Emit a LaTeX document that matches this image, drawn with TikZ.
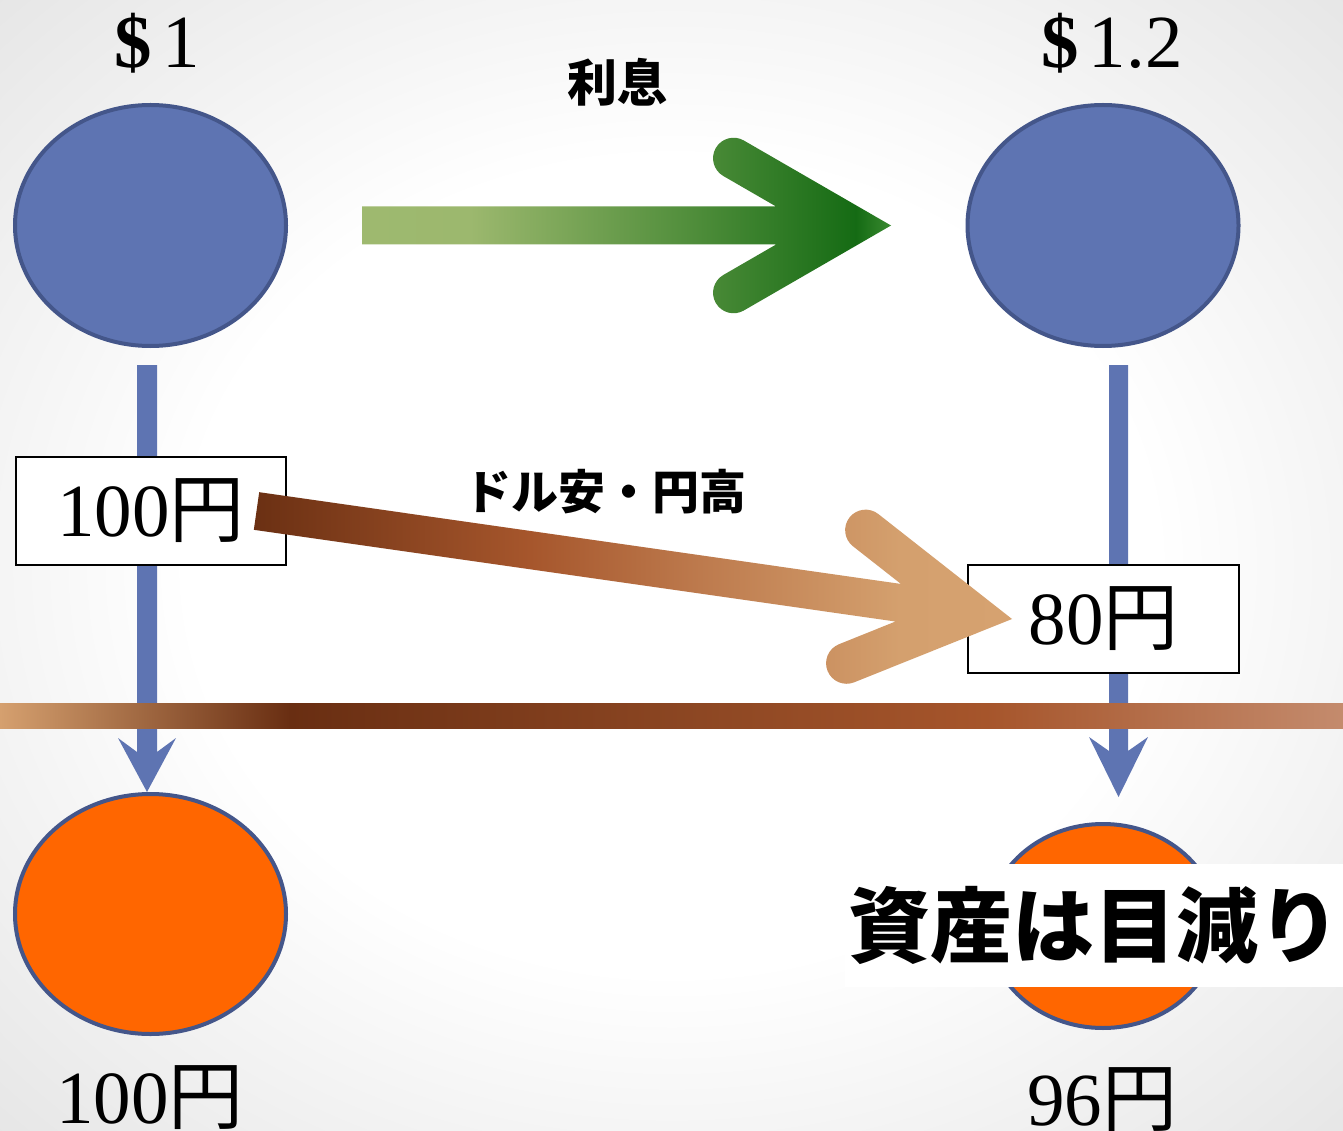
\documentclass[tikz,border=0pt]{standalone}
\usepackage{fontspec}
\setmainfont{Liberation Serif}
\newfontfamily\jp{Noto Sans CJK JP}
\usetikzlibrary{shapes.geometric}
\definecolor{bluefill}{HTML}{5E74B2}
\definecolor{blueline}{HTML}{44568A}
\definecolor{orangefill}{HTML}{FF6600}
\definecolor{ga}{HTML}{9EB96F}
\definecolor{gb}{HTML}{9CB86E}
\definecolor{gc}{HTML}{4D8C39}
\definecolor{gd}{HTML}{156B14}
\definecolor{ge}{HTML}{3A8A30}
\definecolor{ba}{HTML}{6B3013}
\definecolor{bb}{HTML}{A6562C}
\definecolor{bc}{HTML}{BD7A4D}
\definecolor{bd}{HTML}{D4A06E}
\definecolor{be}{HTML}{D6A270}
\definecolor{ra}{HTML}{D5A06F}
\definecolor{rb}{HTML}{692E12}
\definecolor{rc}{HTML}{8D4723}
\definecolor{rd}{HTML}{A6552B}
\definecolor{re}{HTML}{C48B6D}
\pgfdeclareradialshading{bgshade}{\pgfpoint{0bp}{0bp}}{color(0bp)=(white); color(18bp)=(white); color(25bp)=(black!4); color(36bp)=(black!10); color(50bp)=(black!10)}
\pgfdeclarehorizontalshading{greenshade}{100bp}{color(0bp)=(ga); color(25bp)=(ga); color(35.2bp)=(gb); color(56.9bp)=(gc); color(71.7bp)=(gd); color(75bp)=(ge); color(100bp)=(ge)}
\pgfdeclarehorizontalshading{brownshade}{100bp}{color(0bp)=(ba); color(25bp)=(ba); color(43.2bp)=(bb); color(54.4bp)=(bc); color(67.6bp)=(bd); color(75bp)=(be); color(100bp)=(be)}
\pgfdeclarehorizontalshading{barshade}{100bp}{color(0bp)=(ra); color(25bp)=(ra); color(35.8bp)=(rb); color(51.1bp)=(rc); color(61.7bp)=(rd); color(75bp)=(re); color(100bp)=(re)}
\tikzset{
  coin/.style={ellipse, draw=blueline, line width=4pt, inner sep=0pt},
  yenbox/.style={draw=black, line width=2pt, fill=white, minimum width=270pt, minimum height=108pt, inner sep=0pt, font=\fontsize{75}{80}\selectfont},
  bigtext/.style={inner sep=0pt, font=\fontsize{75}{80}\selectfont, anchor=base},
  jplabel/.style={inner sep=0pt, font=\jp\bfseries\fontsize{47}{52}\selectfont}
}
\begin{document}
\begin{tikzpicture}[x=1pt,y=-1pt]
\useasboundingbox (0,0) rectangle (1343,1131);
\shade[shading=bgshade] (0,0) rectangle (1343,1131);

% blue connectors (block arrows)
\coordinate (t1) at (147,792);
\coordinate (t2) at (1118.5,797);
\fill[bluefill] (137,365) -- (137,752) -- (118,738) -- (t1) -- (176,738) -- (157,752) -- (157,365) -- cycle;
\fill[bluefill] (1109,365) -- (1109,751) -- (1089,737) -- (t2) -- (1148,737) -- (1128,751) -- (1128,365) -- cycle;

% circles
\node[coin, fill=bluefill, minimum width=271pt, minimum height=241pt] (b1) at (150.5,225.5) {};
\node[coin, fill=bluefill, minimum width=271pt, minimum height=241pt] (b2) at (1103,225.5) {};
\node[coin, fill=orangefill, minimum width=271pt, minimum height=240pt] (o1) at (150.5,914) {};
\node[coin, fill=orangefill, minimum width=230pt, minimum height=204pt] (o2) at (1103,926) {};

% boxes
\node[yenbox] (box1) at (151,511) {100{\jp 円}};
\node[yenbox, minimum width=271pt] (box2) at (1103.5,619) {80{\jp 円}};

% green arrow (interest)
\shade[shading=greenshade] (362,206.5) -- (776.1,206.5) -- (723.3,176.0)
  arc[start angle=120, end angle=300, radius=20.5] -- (891,225.5) -- (743.8,310.5)
  arc[start angle=60, end angle=240, radius=20.5] -- (776.1,244.5) -- (362,244.5) -- cycle;

% brown arrow (dollar down, yen up)
\shade[shading=brownshade] (259.19,492.19) -- (900.94,583.93) -- (852.97,546.26)
  arc[start angle=128.14, end angle=308.14, radius=20.5] -- (1012,619) -- (854.2,682.3)
  arc[start angle=68.14, end angle=248.14, radius=20.5] -- (895.5,621.5) -- (253.81,529.81) -- cycle;

% horizontal bar
\shade[shading=barshade] (0,703) rectangle (1343,728);

% label over right orange circle
\node[fill=white, minimum width=498pt, minimum height=123pt, inner sep=0pt, font=\jp\bfseries\fontsize{82}{90}\selectfont] (loss) at (1094,925.5) {資産は目減り};

% texts
\node[bigtext] (d1) at (157,68) {{\bfseries\$}\kern10pt1};
\node[bigtext] (d2) at (1112,68) {{\bfseries\$}\kern10pt1.2};
\node[jplabel, font=\jp\bfseries\fontsize{50}{55}\selectfont] (rishi) at (617,82) {利息};
\node[jplabel] (fx) at (605,492) {ドル安・円高};
\node[bigtext] (y100) at (150,1123) {100{\jp 円}};
\node[bigtext] (y96) at (1102,1125) {96{\jp 円}};
\end{tikzpicture}
\end{document}
